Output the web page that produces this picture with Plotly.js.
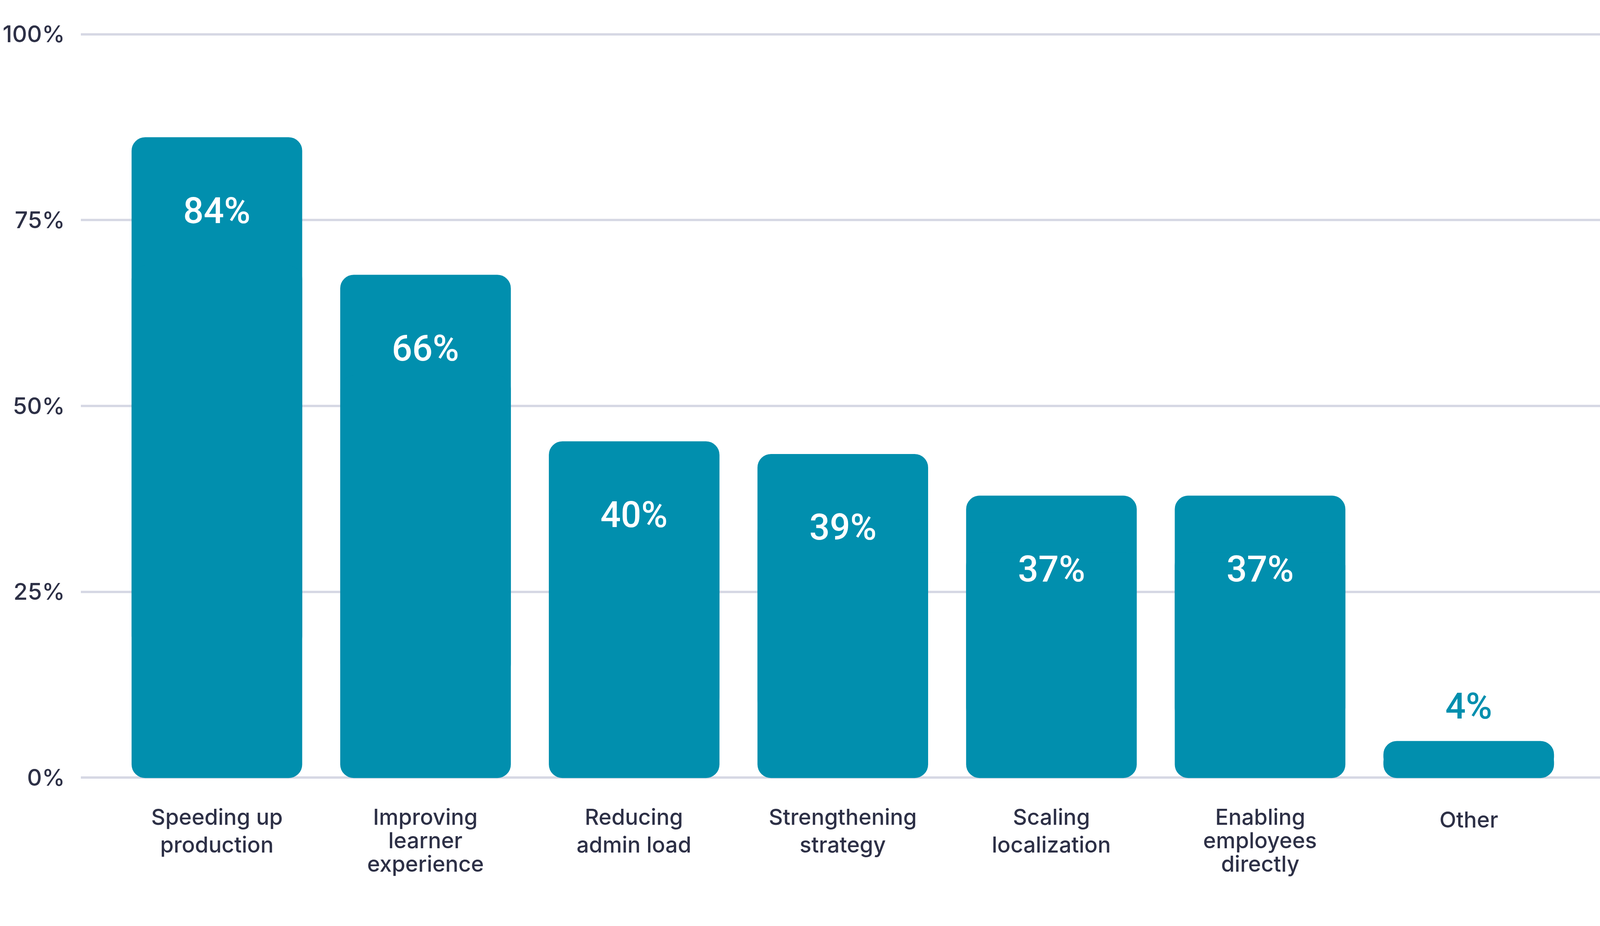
<!DOCTYPE html>
<html>
<head>
<meta charset="utf-8">
<script src="https://cdn.plot.ly/plotly-3.0.1.min.js"></script>
<style>
  html, body { margin: 0; padding: 0; background: #ffffff; }
  #chart { width: 4114px; height: 2370px; }
</style>
</head>
<body>
<div id="chart"></div>
<script>
// ---- Data ----
const categories = [
  "Speeding up<br>production",
  "Improving<br>learner<br>experience",
  "Reducing<br>admin load",
  "Strengthening<br>strategy",
  "Scaling<br>localization",
  "Enabling<br>employees<br>directly",
  "Other"
];
// printed percentages on the bars
const shares = [84, 66, 40, 39, 37, 37, 4];
// apparent bar heights against the y axis (as drawn in the reference)
const barHeights = [86.1, 67.6, 45.2, 43.5, 37.9, 37.9, 4.9];
const yTickValues = [0, 25, 50, 75, 100];
const yTickLabels = ["0%", "25%", "50%", "75%", "100%"];

// ---- Styling ----
const TEAL = "#018fae";
const INK = "#2d3046";
const GRID = "#d6d8e4";
const FONT = "Inter, 'Noto Sans', sans-serif";
const VALUE_FONT = "Roboto, Inter, sans-serif";

// Each bar is built of two overlapping pieces so both ends get rounded corners
const upperBase = barHeights.map(h => h * 0.2);
const upperLen = barHeights.map(h => h * 0.8);
const lowerBase = barHeights.map(h => h * 0.8);
const lowerLen = barHeights.map(h => -h * 0.8);

const barStyle = { color: TEAL, cornerradius: 34, line: { width: 1.5, color: TEAL } };

const traces = [
  {
    type: "bar", x: categories, y: upperLen, base: upperBase,
    marker: barStyle, hoverinfo: "skip", showlegend: false
  },
  {
    type: "bar", x: categories, y: lowerLen, base: lowerBase,
    marker: barStyle, hoverinfo: "skip", showlegend: false
  }
];

// value labels
const annotations = categories.map((c, i) => {
  const inside = barHeights[i] > 10;
  return {
    x: c, y: barHeights[i], xref: "x", yref: "y",
    text: shares[i] + "%",
    showarrow: false,
    xanchor: "center", yanchor: "middle",
    yshift: inside ? -187 : 90,
    font: { family: VALUE_FONT, size: 92, weight: 500, color: inside ? "#ffffff" : TEAL }
  };
});

// category labels, one annotation per text line (tighter spacing for 3-line labels)
categories.forEach((c, i) => {
  const lines = c.split("<br>");
  const pitch = lines.length > 2 ? 60 : 71;
  const first = lines.length === 1 ? 100 : 93;
  lines.forEach((ln, k) => {
    annotations.push({
      x: c, xref: "x", y: 0, yref: "paper",
      text: ln, showarrow: false,
      xanchor: "center", yanchor: "middle",
      yshift: -(first + k * pitch),
      font: { family: FONT, size: 56, weight: 500, color: INK }
    });
  });
});

const layout = {
  width: 4114, height: 2370,
  paper_bgcolor: "#ffffff", plot_bgcolor: "#ffffff",
  margin: { l: 207, r: 0, t: 80, b: 372, pad: 0 },
  barmode: "overlay",
  bargap: 0.185,
  showlegend: false,
  xaxis: {
    type: "category",
    range: [-0.652, 6.663],
    showgrid: false, zeroline: false, showline: false,
    ticks: "", showticklabels: false,
    fixedrange: true
  },
  yaxis: {
    range: [-0.4, 100.4],
    tickvals: yTickValues,
    ticktext: yTickLabels,
    showgrid: true, gridcolor: GRID, gridwidth: 6,
    zeroline: false, showline: false,
    ticks: "",
    ticklabelstandoff: 40,
    tickfont: { family: FONT, size: 59, weight: 500, color: INK },
    fixedrange: true
  },
  annotations: annotations,
  font: { family: FONT, color: INK }
};

Plotly.newPlot("chart", traces, layout, { staticPlot: true, displayModeBar: false });
</script>
</body>
</html>
